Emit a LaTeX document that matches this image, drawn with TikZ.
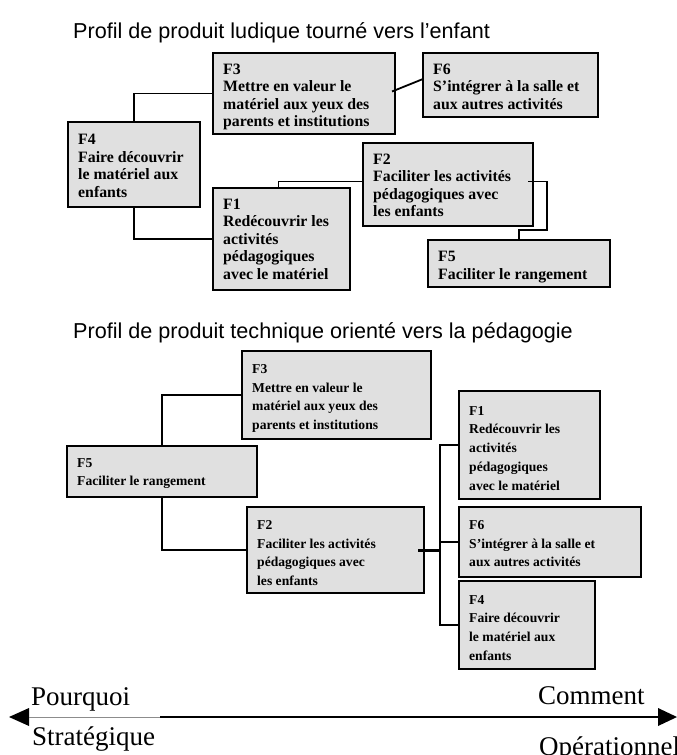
\documentclass[tikz,border=0pt]{standalone}
\usepackage{fontspec}
\setmainfont{Liberation Serif}
\newfontfamily\titlefont{Liberation Sans}
\definecolor{boxfill}{HTML}{E0E0E0}
\definecolor{axisgray}{HTML}{8C8C8C}

% #1 name, #2 x, #3 y, #4 width, #5 height, #6 text style, #7 text drop, #8 text
\newcommand\fnode[8]{%
  \node[fbox, minimum width=#4pt, minimum height=#5pt] (#1) at (#2,#3) {};
  \node[#6] (#1t) at ([xshift=10pt, yshift=-#7pt]#1.north west) {#8};}

\begin{document}
\begin{tikzpicture}[x=1pt, y=-1pt,
  fbox/.style={draw=black, line width=2pt, fill=boxfill, inner sep=0pt, outer sep=0pt, anchor=north west},
  toptxt/.style={anchor=north west, inner sep=0pt, align=left, font=\bfseries\fontsize{15.8}{17.5}\selectfont},
  bottxt/.style={anchor=north west, inner sep=0pt, align=left, font=\bfseries\fontsize{13.6}{18.8}\selectfont},
  link/.style={draw=black, line width=1.8pt},
  title/.style={anchor=base west, inner sep=0pt, font=\titlefont\fontsize{21.6}{24}\selectfont},
  axislabel/.style={anchor=base west, inner sep=0pt, font=\fontsize{27}{30}\selectfont}
]
\useasboundingbox (0,0) rectangle (677,755);

% ---------- first profile ----------
\node[title] (title1) at (73,38) {Profil de produit ludique tourné vers l’enfant};

\fnode{t3}{213}{53}{182}{81}{toptxt}{10.5}{F3\\Mettre en valeur le\\matériel aux yeux des\\parents et institutions}
\fnode{t6}{423}{53}{175}{64}{toptxt}{10.5}{F6\\S’intégrer à la salle et\\aux autres activités}
\fnode{t4}{68}{122}{132}{85}{toptxt}{12}{F4\\Faire découvrir\\le matériel aux\\enfants}
\fnode{t2}{363}{143}{170}{83}{toptxt}{10.5}{F2\\Faciliter les activités\\pédagogiques avec\\les enfants}
\fnode{t1}{213}{188}{137}{102}{toptxt}{10.5}{F1\\Redécouvrir les\\activités\\pédagogiques\\avec le matériel}
\fnode{t5}{428}{240}{182}{47}{toptxt}{11}{F5\\Faciliter le rangement}

\draw[link] (t4.north) |- (t3.west);
\draw[link] (t4.south) |- (t1.west);
\draw[link] ([xshift=-3pt,yshift=2pt]t3.east) -- ([yshift=6pt]t6.west);
\draw[link] ([yshift=3pt]t2.west) -| ([xshift=-3pt]t1.north);
\coordinate (tk) at (547,230);
\draw[link] ([xshift=-5pt,yshift=3pt]t2.east) -| (tk) -| (t5.north);

% ---------- second profile ----------
\node[title] (title2) at (73,338) {Profil de produit technique orienté vers la pédagogie};

\fnode{b3}{242}{351}{189}{88}{bottxt}{13}{F3\\Mettre en valeur le\\matériel aux yeux des\\parents et institutions}
\fnode{b1}{459}{391}{141}{108}{bottxt}{15}{F1\\Redécouvrir les\\activités\\pédagogiques\\avec le matériel}
\fnode{b5}{67}{446}{190}{51}{bottxt}{12}{F5\\Faciliter le rangement}
\fnode{b6}{459}{507}{182}{70}{bottxt}{13}{F6\\S’intégrer à la salle et\\aux autres activités}
\fnode{b2}{247}{507}{177}{86}{bottxt}{13}{F2\\Faciliter les activités\\pédagogiques avec\\les enfants}
\fnode{b4}{459}{581}{136}{88}{bottxt}{14}{F4\\Faire découvrir\\le matériel aux\\enfants}

\draw[link] (b5.north) |- (b3.west);
\draw[link] (b5.south) |- (b2.west);
\coordinate (bj) at (440,550);
\draw[draw=black, line width=3pt] ([xshift=-6pt]b2.east) -- (bj);
\draw[link] (b1.west) -| (bj) |- (b4.west);
\draw[link] (bj |- b6.west) -- (b6.west);

% ---------- axis ----------
\coordinate (axL) at (9,717);
\coordinate (axR) at (677,717);
\coordinate (axM) at (160,717);
\fill[black] (axL) -- ++(20,-9) -- ++(0,18) -- cycle;
\fill[black] (axR) -- ++(-19,-9) -- ++(0,18) -- cycle;
\draw[axisgray, line width=0.8pt] ([xshift=20pt]axL) -- (axM);
\draw[black, line width=2pt] (axM) -- ([xshift=-19pt]axR);

\node[axislabel] (why) at (31,705) {Pourquoi};
\node[axislabel] (strat) at (32,745) {Stratégique};
\node[axislabel] (how) at (538,704) {Comment};
\node[axislabel] (oper) at (539,755) {Opérationnel};
\end{tikzpicture}
\end{document}
